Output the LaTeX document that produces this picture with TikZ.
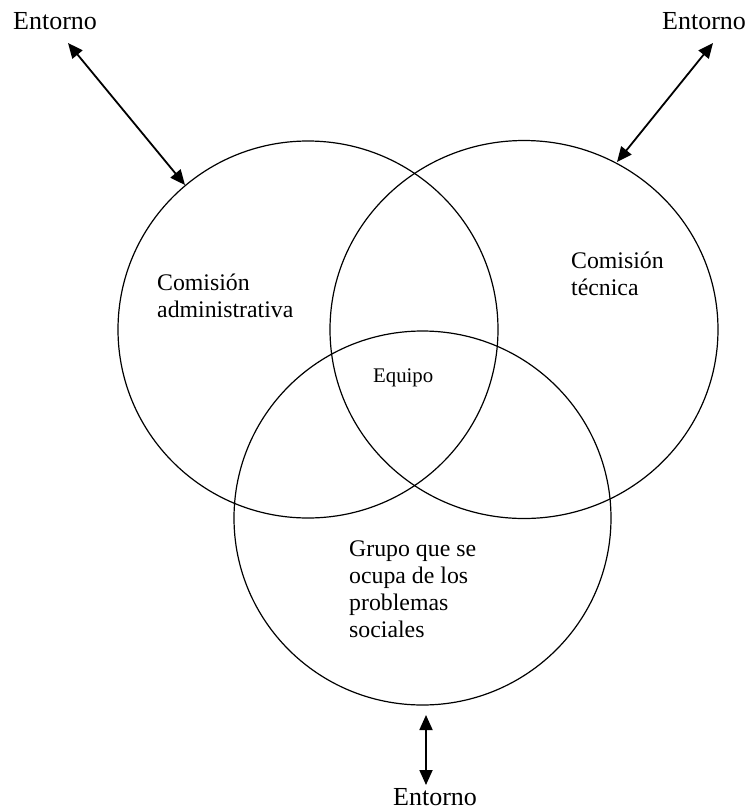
\documentclass[tikz,border=0pt]{standalone}
\usepackage{fontspec}
\setmainfont{Liberation Serif}
\usetikzlibrary{arrows.meta,shapes.geometric}
\begin{document}
\begin{tikzpicture}[x=1pt,y=-1pt,
  ring/.style={draw, ellipse, line width=1.2pt, inner sep=0pt},
  envtext/.style={anchor=base west, inner sep=0pt, font=\fontsize{26}{30}\selectfont},
  lbl/.style={anchor=base west, inner sep=0pt, align=left, font=\fontsize{23.8}{27}\selectfont},
  dbl/.style={{Triangle[length=15pt,width=13pt]}-{Triangle[length=15pt,width=13pt]}, line width=1.8pt}]
\useasboundingbox (0,0) rectangle (750,812);
% circles
\node[ring, minimum width=380pt, minimum height=377pt] (adm) at (308,329.5) {};
\node[ring, minimum width=388pt, minimum height=378pt] (tec) at (524,329.5) {};
\node[ring, minimum width=377pt, minimum height=374pt] (soc) at (422.5,518) {};
% labels (base anchor = baseline of last line)
\node[lbl] (ladm) at (157,317) {Comisión\\administrativa};
\node[lbl] (ltec) at (571,295) {Comisión\\técnica};
\node[anchor=base west, inner sep=0pt, font=\fontsize{20.8}{24}\selectfont] (eq) at (373,382) {Equipo};
\node[lbl] (lsoc) at (349,637) {Grupo que se\\ocupa de los\\problemas\\sociales};
% environment labels
\node[envtext] (e1) at (13,29) {Entorno};
\node[envtext] (e2) at (662,29) {Entorno};
\node[envtext] (e3) at (393,805) {Entorno};
% arrow end points
\coordinate (a1) at (68,43);
\coordinate (b1) at (185,185);
\coordinate (a2) at (713,43);
\coordinate (b2) at (617,162);
\coordinate (a3) at (426,715);
\coordinate (b3) at (426,785);
\draw[dbl] (a1) -- (b1);
\draw[dbl] (a2) -- (b2);
\draw[dbl] (a3) -- (b3);
\end{tikzpicture}
\end{document}
